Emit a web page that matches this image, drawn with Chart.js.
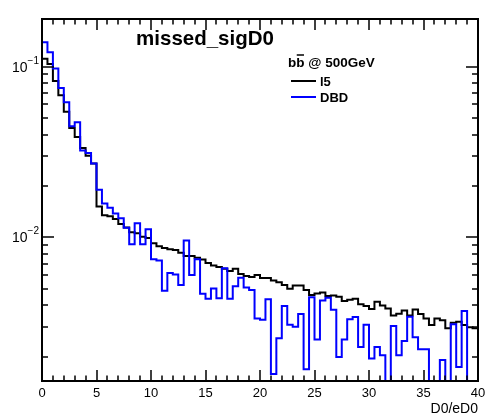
<!DOCTYPE html>
<html>
<head>
<meta charset="utf-8">
<script src="https://cdn.jsdelivr.net/npm/chart.js@4.4.1/dist/chart.umd.min.js"></script>
<style>
  html, body { margin: 0; padding: 0; background: #fff; }
  #wrap { width: 486px; height: 416px; }
</style>
</head>
<body>
<div id="wrap"><canvas id="c" width="486" height="416"></canvas></div>
<script>
// Histogram: missed_sigD0, 80 bins of D0/eD0 from 0 to 40 (normalised)
const histTitle = 'missed_sigD0';
const xAxisTitle = 'D0/eD0';
const seriesNames = ['l5', 'DBD'];
const seriesColors = ['#000000', '#0000ff'];

const xMin = 0, xMax = 40, binWidth = 0.5;
const yMin = 0.00144, yMax = 0.19;

const l5Values = [
  0.1110, 0.1037, 0.0824, 0.0680, 0.0543, 0.0437, 0.0387, 0.0334, 0.0300, 0.0271,
  0.01515, 0.01347, 0.01327, 0.0128, 0.01197, 0.0114, 0.0107, 0.01055, 0.01008, 0.00991,
  0.00922, 0.00886, 0.00866, 0.00852, 0.00842, 0.00811, 0.00777, 0.00777, 0.00758, 0.00741,
  0.00707, 0.00684, 0.00670, 0.00655, 0.00635, 0.00655, 0.00609, 0.00593, 0.00585, 0.00601,
  0.00577, 0.00577, 0.00558, 0.00545, 0.00525, 0.00499, 0.00522, 0.00522, 0.00491, 0.00459,
  0.00469, 0.00475, 0.00453, 0.00456, 0.00449, 0.00423, 0.00431, 0.00436, 0.00406, 0.00396,
  0.00380, 0.00419, 0.00398, 0.00383, 0.00348, 0.00357, 0.00373, 0.00348, 0.00378, 0.00355,
  0.00335, 0.00306, 0.00335, 0.00327, 0.00293, 0.00316, 0.00320, 0.00306, 0.00297, 0.00293
];

const dbdValues = [
  0.139, 0.1214, 0.0973, 0.0750, 0.0618, 0.0447, 0.0472, 0.0322, 0.0312, 0.0271,
  0.0190, 0.0158, 0.0149, 0.0138, 0.01294, 0.01137, 0.00910, 0.01210, 0.00910, 0.01114,
  0.00743, 0.00731, 0.00486, 0.00618, 0.00605, 0.00525, 0.00959, 0.00601, 0.00743, 0.00467,
  0.00436, 0.00502, 0.00439, 0.00658, 0.00436, 0.00516, 0.00579, 0.00508, 0.00491, 0.00335,
  0.00329, 0.00433, 0.00158, 0.00256, 0.00396, 0.00308, 0.00299, 0.00355, 0.00169, 0.00445,
  0.00252, 0.00426, 0.00442, 0.00377, 0.00199, 0.00252, 0.00331, 0.00341, 0.00228, 0.00308,
  0.00195, 0.00228, 0.00204, 0, 0.00302, 0.00204, 0.00247, 0.00342, 0.00260, 0.00221,
  0.00221, 0, 0, 0.00191, 0, 0.00310, 0.00174, 0.00370, 0, 0
];

const xTickValues = [0, 5, 10, 15, 20, 25, 30, 35, 40];
const xTickLabels = ['0', '5', '10', '15', '20', '25', '30', '35', '40'];
const yDecadeValues = [0.1, 0.01];
const yDecadeExponents = ['\u22121', '\u22122'];

const FONT = "'Liberation Sans', Arial, Helvetica, sans-serif";

// Step outline: one point at each bin low edge plus the closing upper edge.
// Empty bins sit on the lower edge of the log axis, as ROOT draws them.
function outline(values) {
  const pts = values.map((v, i) => ({ x: xMin + i * binWidth, y: v > 0 ? v : yMin }));
  const last = values[values.length - 1];
  pts.push({ x: xMin + values.length * binWidth, y: last > 0 ? last : yMin });
  return pts;
}

const rootDecor = {
  id: 'rootDecor',
  afterDatasetsDraw(chart) {
    const { ctx, chartArea: a, scales: { x, y } } = chart;
    ctx.save();
    ctx.strokeStyle = '#000';
    ctx.fillStyle = '#000';

    // ticks, pointing into the frame on all four sides
    ctx.lineWidth = 1.5;
    ctx.beginPath();
    for (let v = xMin; v <= xMax; v += 1) {
      const px = Math.round(x.getPixelForValue(v));
      const len = v % 5 === 0 ? 11 : 5.5;
      ctx.moveTo(px, a.bottom); ctx.lineTo(px, a.bottom - len);
      ctx.moveTo(px, a.top); ctx.lineTo(px, a.top + len);
    }
    for (let d = -4; d <= 0; d++) {
      for (let m = 1; m <= 9; m++) {
        const v = m * Math.pow(10, d);
        if (v < y.min || v > y.max) continue;
        const py = Math.round(y.getPixelForValue(v));
        const len = m === 1 ? 12 : 6;
        ctx.moveTo(a.left, py); ctx.lineTo(a.left + len, py);
        ctx.moveTo(a.right, py); ctx.lineTo(a.right - len, py);
      }
    }
    ctx.stroke();

    // frame
    ctx.lineWidth = 2;
    ctx.strokeRect(a.left, a.top, a.right - a.left, a.bottom - a.top);

    // x tick labels
    ctx.font = '13px ' + FONT;
    ctx.textAlign = 'center';
    ctx.textBaseline = 'alphabetic';
    xTickValues.forEach((v, i) => {
      ctx.fillText(xTickLabels[i], x.getPixelForValue(v), a.bottom + 16);
    });

    // y decade labels 10^n
    yDecadeValues.forEach((v, i) => {
      const py = y.getPixelForValue(v);
      ctx.font = '10px ' + FONT;
      const ew = ctx.measureText(yDecadeExponents[i]).width;
      ctx.textAlign = 'right';
      ctx.fillText(yDecadeExponents[i], a.left - 3, py - 3);
      ctx.font = '14px ' + FONT;
      ctx.fillText('10', a.left - 3 - ew, py + 5);
    });

    // axis title
    ctx.font = '14px ' + FONT;
    ctx.textAlign = 'right';
    ctx.fillText(xAxisTitle, a.right, 413);

    // histogram title
    ctx.font = 'bold 20.5px ' + FONT;
    ctx.textAlign = 'center';
    ctx.fillText(histTitle, 205, 45);

    // legend header: b bbar @ 500GeV
    ctx.font = 'bold 13.5px ' + FONT;
    ctx.textAlign = 'left';
    let tx = 288;
    const wb = ctx.measureText('b').width;
    ctx.fillText('b', tx, 67); tx += wb;
    ctx.fillText('b', tx, 67);
    ctx.lineWidth = 1.5;
    ctx.beginPath(); ctx.moveTo(tx + 0.5, 55); ctx.lineTo(tx + wb - 0.5, 55); ctx.stroke();
    tx += wb;
    ctx.fillText(' @ 500GeV', tx, 67);

    // legend entries
    const rows = [81, 97];
    ctx.font = 'bold 13px ' + FONT;
    seriesNames.forEach((name, i) => {
      ctx.strokeStyle = seriesColors[i];
      ctx.lineWidth = 2;
      ctx.beginPath(); ctx.moveTo(291, rows[i]); ctx.lineTo(316, rows[i]); ctx.stroke();
      ctx.fillStyle = '#000';
      ctx.fillText(name, 320, rows[i] + 5);
    });
    ctx.restore();
  }
};

new Chart(document.getElementById('c'), {
  type: 'line',
  data: {
    datasets: [
      { label: seriesNames[1], data: outline(dbdValues), borderColor: seriesColors[1],
        borderWidth: 2, stepped: 'before', pointRadius: 0, fill: false, order: 1 },
      { label: seriesNames[0], data: outline(l5Values), borderColor: seriesColors[0],
        borderWidth: 2, stepped: 'before', pointRadius: 0, fill: false, order: 2 }
    ]
  },
  options: {
    responsive: false,
    animation: false,
    devicePixelRatio: 1,
    layout: { padding: { left: 42, right: 8, top: 19, bottom: 35 } },
    plugins: { legend: { display: false }, tooltip: { enabled: false }, title: { display: false } },
    elements: { line: { tension: 0 } },
    scales: {
      x: { type: 'linear', min: xMin, max: xMax, display: false },
      y: { type: 'logarithmic', min: yMin, max: yMax, display: false }
    }
  },
  plugins: [rootDecor]
});
</script>
</body>
</html>
